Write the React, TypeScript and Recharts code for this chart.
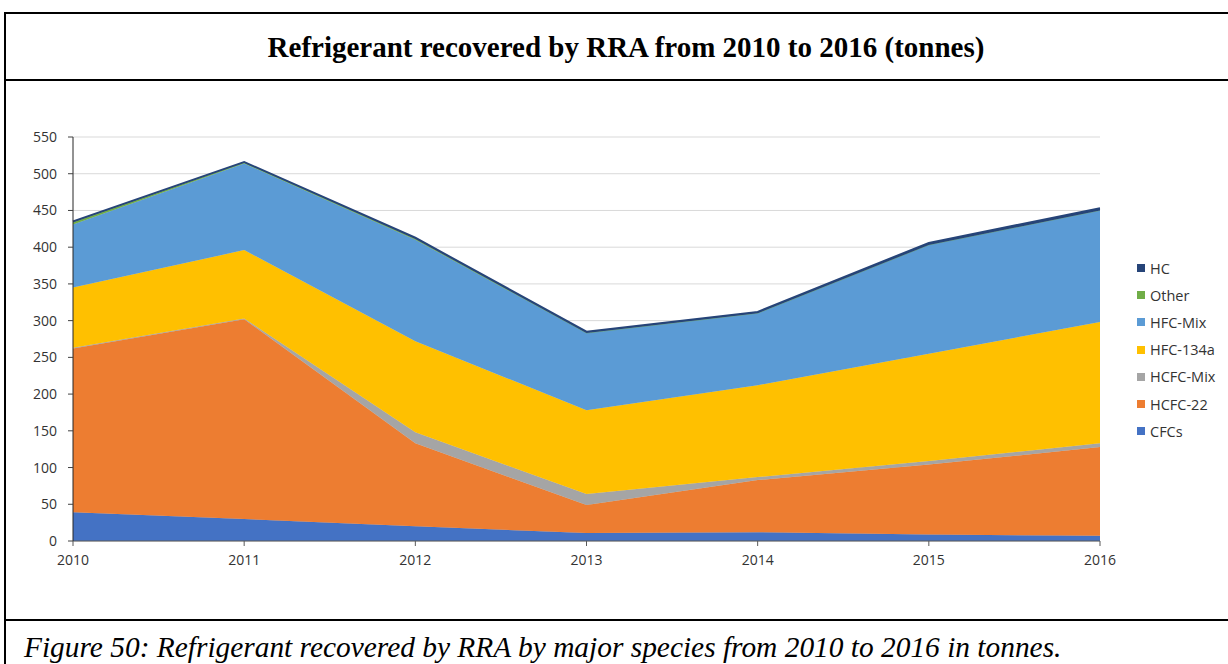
import { Area, AreaChart, CartesianGrid, XAxis, YAxis } from "recharts";

const years = ["2010", "2011", "2012", "2013", "2014", "2015", "2016"];
const cfcs = [39, 30, 20, 11, 12, 9, 7];
const hcfc22 = [223, 272, 113, 38, 71, 95, 121];
const hcfcMix = [1, 1, 15, 15, 4, 5, 5];
const hfc134a = [82, 93, 124, 114, 125, 146, 165];
const hfcMix = [86, 118, 138, 105, 98, 148, 152];
const other = [3, 1, 1, 0, 0, 0, 0];
const hc = [1, 1, 2, 2, 2, 3, 3];
const yTicks = [0, 50, 100, 150, 200, 250, 300, 350, 400, 450, 500, 550];

// stacking order bottom -> top
const series = [
  { key: "CFCs", values: cfcs, color: "#4472C4" },
  { key: "HCFC-22", values: hcfc22, color: "#ED7D31" },
  { key: "HCFC-Mix", values: hcfcMix, color: "#A5A5A5" },
  { key: "HFC-134a", values: hfc134a, color: "#FFC000" },
  { key: "HFC-Mix", values: hfcMix, color: "#5B9BD5" },
  { key: "Other", values: other, color: "#70AD47" },
  { key: "HC", values: hc, color: "#264478" },
];

const data = years.map((year, i) => {
  const row: Record<string, string | number> = { year };
  series.forEach((s) => (row[s.key] = s.values[i]));
  return row;
});

const tickFont = { fill: "#333333", fontSize: 14, fontFamily: "'Open Sans', 'Noto Sans', sans-serif" };

export default function App() {
  return (
    <div style={{ position: "absolute", left: 0, top: 0, width: 1228, height: 664, background: "#fff", overflow: "hidden" }}>
      {/* table frame */}
      <div style={{ position: "absolute", left: 4, top: 12, width: 1260, height: 700, border: "2px solid #000", boxSizing: "border-box" }} />
      <div style={{ position: "absolute", left: 4, top: 79, width: 1260, height: 2, background: "#000" }} />
      <div style={{ position: "absolute", left: 4, top: 619, width: 1260, height: 2, background: "#000" }} />

      <div
        style={{
          position: "absolute",
          left: 6,
          width: 1240,
          top: 30,
          textAlign: "center",
          fontFamily: "'Liberation Serif', 'Times New Roman', serif",
          fontWeight: "bold",
          fontSize: 29,
          lineHeight: "34px",
          color: "#000",
        }}
      >
        Refrigerant recovered by RRA from 2010 to 2016 (tonnes)
      </div>

      <div style={{ position: "absolute", left: 0, top: 80 }}>
        <AreaChart width={1228} height={540} data={data} margin={{ top: 57, right: 128, bottom: 49, left: 0 }}>
          <CartesianGrid vertical={false} stroke="#d9d9d9" />
          <XAxis
            dataKey="year"
            height={30}
            tick={tickFont}
            tickSize={5}
            tickMargin={9}
            axisLine={{ stroke: "#595959" }}
            tickLine={{ stroke: "#595959" }}
          />
          <YAxis
            width={73}
            domain={[0, 550]}
            ticks={yTicks}
            interval={0}
            tick={tickFont}
            tickSize={5}
            tickMargin={11}
            tickLine={{ stroke: "#404040" }}
            axisLine={{ stroke: "#262626" }}
          />
          {series.map((s) => (
            <Area
              key={s.key}
              dataKey={s.key}
              stackId="a"
              type="linear"
              fill={s.color}
              fillOpacity={1}
              stroke={s.color}
              strokeWidth={s.key === "HC" ? 1.8 : 0.5}
              isAnimationActive={false}
            />
          ))}
        </AreaChart>
      </div>

      {/* legend */}
      <div style={{ position: "absolute", left: 1137, top: 254.5 }}>
        {[...series].reverse().map((s) => (
          <div
            key={s.key}
            style={{
              display: "flex",
              alignItems: "center",
              height: 27.2,
              fontFamily: "'Open Sans', 'Noto Sans', sans-serif",
              fontSize: 14.5,
              color: "#333333",
            }}
          >
            <span style={{ width: 8, height: 8, background: s.color, marginRight: 5, display: "inline-block" }} />
            {s.key}
          </div>
        ))}
      </div>

      <div
        style={{
          position: "absolute",
          left: 24,
          top: 630,
          fontFamily: "'Liberation Serif', 'Times New Roman', serif",
          fontStyle: "italic",
          fontSize: 29.4,
          lineHeight: "34px",
          color: "#000",
          whiteSpace: "nowrap",
        }}
      >
        Figure 50: Refrigerant recovered by RRA by major species from 2010 to 2016 in tonnes.
      </div>
    </div>
  );
}
